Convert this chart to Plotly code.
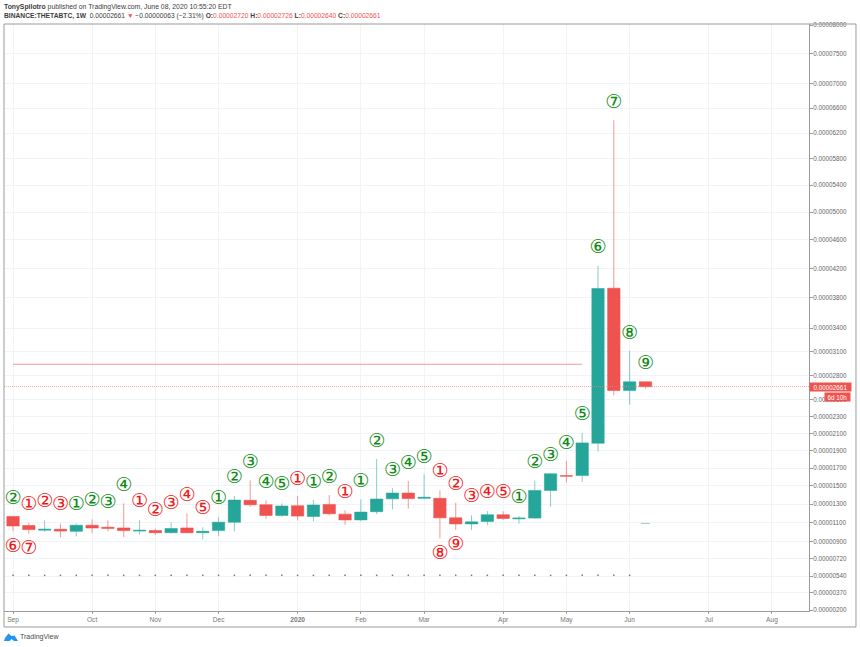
import math
import pandas as pd
import plotly.graph_objects as go

WIDTH, HEIGHT = 860, 647
# plot area in pixels
LEFT, RIGHT, TOP, BOTTOM = 3.5, 809, 23.5, 611

# prices are in satoshi (1e-8 BTC), the price scale of the picture is log(v + PRICE_SHIFT)
PRICE_SHIFT = 9750

weeks = pd.date_range("2019-09-02", periods=41, freq="W-MON")

opens = [1165, 1067, 1018, 1027, 1005, 1070, 1049, 1041, 1008, 1013, 991, 1041, 991, 1013,
         1103, 1340, 1292, 1176, 1281, 1165, 1296, 1190, 1128, 1216, 1357, 1420, 1362, 1362,
         1150, 1085, 1111, 1183, 1139, 1147, 1450, 1613, 1615, 1985, 3930, 2612, 2720]
highs = [1168, 1096, 1122, 1089, 1089, 1133, 1122, 1307, 1125, 1035, 1103, 1201, 1049, 1158,
         1390, 1561, 1340, 1307, 1387, 1343, 1398, 1234, 1351, 1805, 1475, 1555, 1630, 1450,
         1314, 1176, 1223, 1220, 1169, 1561, 1640, 1782, 2105, 4235, 6404, 3110, 2726]
lows = [1008, 980, 998, 943, 951, 987, 1005, 943, 972, 969, 983, 983, 921, 954,
        1005, 1270, 1139, 1161, 1122, 1111, 1176, 1074, 1114, 1190, 1242, 1249, 1351, 930,
        1019, 1019, 1070, 1128, 1089, 1139, 1270, 1537, 1545, 1890, 2555, 2440, 2640]
closes = [1063, 1024, 1027, 1008, 1070, 1041, 1038, 1013, 1016, 991, 1035, 991, 1005, 1103,
          1343, 1292, 1176, 1278, 1169, 1289, 1194, 1128, 1212, 1354, 1420, 1360, 1373, 1150,
          1085, 1107, 1183, 1144, 1147, 1450, 1635, 1610, 1989, 3926, 2615, 2720, 2661]

# TD sequential counts: week index, count, price level
green_weeks = [0, 4, 5, 6, 7, 13, 14, 15, 16, 17, 19, 20, 22, 23, 24, 25, 26, 32, 33, 34, 35,
               36, 37, 38, 39, 40]
green_counts = ["②", "①", "②", "③", "④", "①", "②", "③", "④", "⑤", "①", "②", "①", "②", "③",
                "④", "⑤", "①", "②", "③", "④", "⑤", "⑥", "⑦", "⑧", "⑨"]
green_levels = [1355, 1285, 1333, 1307, 1500, 1347, 1580, 1760, 1525, 1503, 1530, 1585, 1537,
                1993, 1665, 1745, 1815, 1358, 1750, 1830, 1978, 2320, 4488, 6681, 3321, 2939]
red_weeks = [1, 2, 3, 8, 9, 10, 11, 12, 18, 21, 27, 28, 29, 30, 31, 0, 1, 27, 28]
red_counts = ["①", "②", "③", "①", "②", "③", "④", "⑤", "①", "①", "①", "②", "③", "④", "⑤",
              "⑥", "⑦", "⑧", "⑨"]
red_levels = [1289, 1314, 1285, 1318, 1226, 1300, 1390, 1240, 1566, 1423, 1648, 1508, 1372,
              1420, 1420, 842, 821, 764, 856]

dots_level = 547
last_price = 2661
resistance_level = 2939
resistance_weeks = [0, 36]
stray_level = 1090
stray_dates = ["2020-06-06", "2020-06-10"]

x_range = ["2019-08-29", "2020-08-19 10:00"]
month_dates = ["2019-09-02", "2019-10-07", "2019-11-04", "2019-12-02", "2020-01-06", "2020-02-03",
               "2020-03-02", "2020-04-06", "2020-05-04", "2020-06-01", "2020-07-06", "2020-08-03"]
month_labels = ["Sep", "Oct", "Nov", "Dec", "<b>2020</b>", "Feb", "Mar", "Apr", "May", "Jun", "Jul", "Aug"]

price_ticks = [200, 370, 540, 720, 900, 1100, 1300, 1500, 1700, 1900, 2100, 2300, 2500, 2800,
               3100, 3400, 3800, 4200, 4600, 5000, 5400, 5800, 6200, 6600, 7000, 7500, 8000]

GREEN = "#26a69a"
RED = "#ef5350"
GRID = "#f0f3f8"
FRAME = "#9b9b9b"
FONT = "Liberation Sans"


def shifted(values):
    return [v + PRICE_SHIFT for v in values]


def price_text(v):
    return f"{v / 1e8:.8f}"


def px_x(px):
    return (px - LEFT) / (RIGHT - LEFT)


def px_y(py):
    return (BOTTOM - py) / (BOTTOM - TOP)


fig = go.Figure()

fig.add_trace(go.Candlestick(
    x=weeks,
    open=shifted(opens),
    high=shifted(highs),
    low=shifted(lows),
    close=shifted(closes),
    increasing=dict(fillcolor=GREEN, line=dict(color="rgba(38,166,154,0.55)", width=1)),
    decreasing=dict(fillcolor=RED, line=dict(color="rgba(239,83,80,0.6)", width=1)),
    whiskerwidth=0,
    showlegend=False,
))

# resistance line and last price line
fig.add_trace(go.Scatter(
    x=[weeks[i] for i in resistance_weeks], y=shifted([resistance_level] * 2),
    mode="lines", line=dict(color="#f19a98", width=1), showlegend=False,
))
fig.add_trace(go.Scatter(
    x=x_range, y=shifted([last_price] * 2),
    mode="lines", line=dict(color="#f27c7a", width=0.7, dash="1px,1px"), showlegend=False,
))
fig.add_trace(go.Scatter(
    x=stray_dates, y=shifted([stray_level] * 2),
    mode="lines", line=dict(color="#9fd3b0", width=1), showlegend=False,
))

# row of small dots under the candles
fig.add_trace(go.Scatter(
    x=weeks[:40], y=shifted([dots_level] * 40),
    mode="markers", marker=dict(color="#777777", size=1.5, symbol="square"), showlegend=False,
))

fig.add_trace(go.Scatter(
    x=[weeks[i] for i in green_weeks], y=shifted(green_levels), text=green_counts,
    mode="text", textposition="middle center",
    textfont=dict(family="DejaVu Sans", size=19, color="#0c8a12"), showlegend=False,
))
fig.add_trace(go.Scatter(
    x=[weeks[i] for i in red_weeks], y=shifted(red_levels), text=red_counts,
    mode="text", textposition="middle center",
    textfont=dict(family="DejaVu Sans", size=19, color="#f01818"), showlegend=False,
))

header1 = ("<b>TonySpilotro</b> published on TradingView.com, June 08, 2020 10:55:20 EDT")
red_span = '<span style="color:#ef5350">%s</span>'
header2 = ("<b>BINANCE:THETABTC, 1W</b>  0.00002661 " + red_span % "▼" + " −0.00000063 (−2.31%) "
           + "<b>O:</b>" + red_span % "0.00002720" + " <b>H:</b>" + red_span % "0.00002726"
           + " <b>L:</b>" + red_span % "0.00002640" + " <b>C:</b>" + red_span % "0.00002661")

annotations = [
    dict(x=px_x(1.5), y=px_y(6.5), xref="paper", yref="paper", text=header1, showarrow=False,
         xanchor="left", yanchor="middle", font=dict(family=FONT, size=6.85, color="#3c3c3c")),
    dict(x=px_x(1.5), y=px_y(15.5), xref="paper", yref="paper", text=header2, showarrow=False,
         xanchor="left", yanchor="middle", font=dict(family=FONT, size=6.7, color="#3c3c3c")),
    # last price and countdown labels on the price scale
    dict(x=1, y=math.log10(last_price + PRICE_SHIFT), xref="paper", yref="y",
         text=price_text(last_price), showarrow=False, xanchor="left", yanchor="middle",
         width=41, height=8, borderpad=0, bgcolor=RED, font=dict(family=FONT, size=6.3, color="white")),
    dict(x=px_x(824.5), y=math.log10(last_price + PRICE_SHIFT), xref="paper", yref="y", yshift=-10,
         text="6d 10h", showarrow=False, xanchor="left", yanchor="middle",
         width=25, height=8, borderpad=0, bgcolor=RED, font=dict(family=FONT, size=6.3, color="white")),
    dict(x=px_x(17.5), y=px_y(637), xref="paper", yref="paper", text="TradingView", showarrow=False,
         xanchor="left", yanchor="middle", font=dict(family=FONT, size=7, color="#4a4a4a")),
]

shapes = [
    dict(type="rect", xref="paper", yref="paper", x0=px_x(3.5), x1=px_x(856), y0=px_y(23.5), y1=px_y(627),
         line=dict(color=FRAME, width=1), layer="above"),
    # TradingView logo
    dict(type="path", xref="paper", yref="paper", layer="above", line=dict(width=0), fillcolor="#2196f3",
         path=f"M {px_x(3.5)} {px_y(641)} L {px_x(4.5)} {px_y(638)} L {px_x(8)} {px_y(633.5)} L {px_x(11)} {px_y(636)} "
              f"L {px_x(14)} {px_y(635.5)} L {px_x(17.5)} {px_y(641)} L {px_x(13.5)} {px_y(641)} "
              f"L {px_x(11)} {px_y(639)} L {px_x(9)} {px_y(641)} Z"),
]

fig.update_layout(
    width=WIDTH,
    height=HEIGHT,
    autosize=False,
    margin=dict(l=LEFT, r=WIDTH - RIGHT, t=TOP, b=HEIGHT - BOTTOM, pad=0),
    paper_bgcolor="white",
    plot_bgcolor="white",
    boxgap=0.22,
    boxgroupgap=0,
    showlegend=False,
    annotations=annotations,
    shapes=shapes,
    xaxis=dict(
        type="date", range=x_range, tickmode="array", tickvals=month_dates, ticktext=month_labels,
        showgrid=True, gridcolor=GRID, gridwidth=1, zeroline=False,
        showline=True, linecolor=FRAME, linewidth=1,
        ticks="outside", ticklen=2, tickcolor=FRAME, tickfont=dict(family=FONT, size=6.6, color="#777777"),
        rangeslider=dict(visible=False),
    ),
    yaxis=dict(
        type="log", side="right",
        range=[math.log10(200 + PRICE_SHIFT) - 0.00043, math.log10(8000 + PRICE_SHIFT) + 0.00043],
        tickmode="array", tickvals=shifted(price_ticks), ticktext=[price_text(v) for v in price_ticks],
        showgrid=True, gridcolor=GRID, gridwidth=1, zeroline=False,
        showline=True, linecolor=FRAME, linewidth=1,
        ticks="outside", ticklen=3, tickcolor=FRAME, ticklabelstandoff=-1,
        tickfont=dict(family=FONT, size=6.3, color="#666666"),
    ),
)

fig.write_html("out.html", config=dict(displayModeBar=False), post_script="document.body.style.margin='0';")
